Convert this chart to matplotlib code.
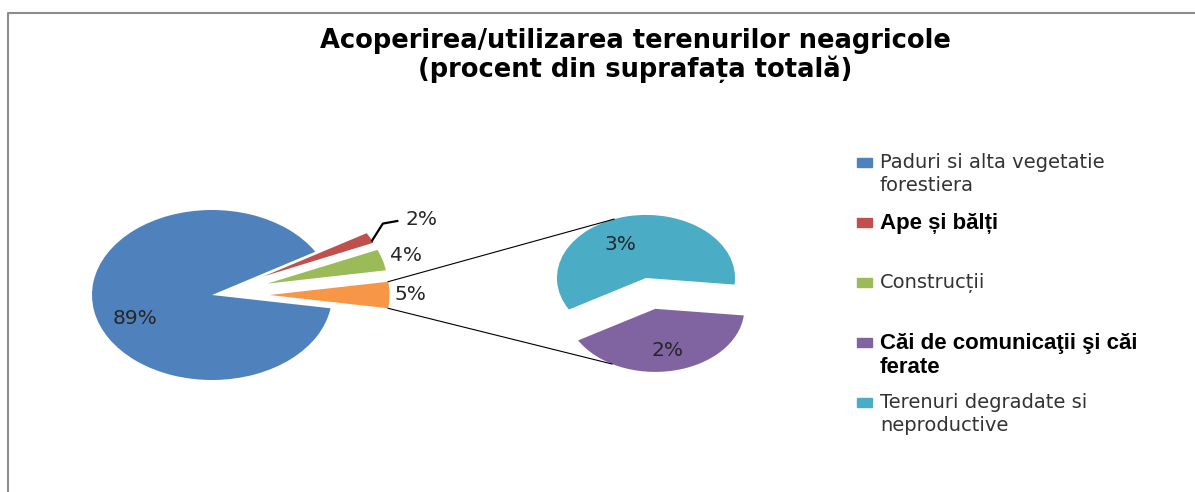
import matplotlib
matplotlib.use("Agg")
import matplotlib.pyplot as plt
from matplotlib.patches import Rectangle
from matplotlib.lines import Line2D
import numpy as np

# data
title_lines = ["Acoperirea/utilizarea terenurilor neagricole",
               "(procent din suprafața totală)"]
categories = ["Paduri si alta vegetatie\nforestiera",
              "Ape și bălți",
              "Construcții",
              "Căi de comunicaţii şi căi\nferate",
              "Terenuri degradate si\nneproductive"]
main_values = [89, 2, 4]      # Paduri, Ape, Constructii
other_values = [3, 2]         # Terenuri degradate, Cai de comunicatii
colors = ["#4F81BD", "#C0504D", "#9BBB59", "#8064A2", "#4BACC6"]
other_color = "#F79646"

W, H = 1195, 492
SX, SY = 120, 85   # pixels per data unit (pies are stretched wide)


def d(px, py):
    return px / SX, (H - py) / SY


fig = plt.figure(figsize=(W / 100, H / 100), dpi=100)
ax = fig.add_axes([0, 0, 1, 1])

# main pie: blue, red, green + "other" (orange) wedge
main_sizes = main_values + [sum(other_values)]
w1, _ = ax.pie(main_sizes, colors=colors[:3] + [other_color], center=d(212, 295),
               radius=1, startangle=351, counterclock=False,
               explode=[0, 0.48, 0.48, 0.48])

# secondary pie: cyan, purple
r2 = 0.742
w2, _ = ax.pie(other_values, colors=[colors[4], colors[3]], center=d(646, 278),
               radius=r2, startangle=-6, counterclock=True,
               explode=[0, 0.5 * r2])

ax.set_aspect("auto")
ax.set_xlim(0, W / SX)
ax.set_ylim(0, H / SY)
ax.axis("off")


def at(w, f, ang=None):
    a = np.deg2rad((w.theta1 + w.theta2) / 2 if ang is None else ang)
    return w.center[0] + f * w.r * np.cos(a), w.center[1] + f * w.r * np.sin(a)


lab_kw = dict(fontsize=14.5, family="DejaVu Sans", color="#262626", ha="center", va="center")
ax.text(*at(w1[0], 0.7, 203), f"{main_values[0]}%", **lab_kw)
ax.text(*at(w1[2], 1.2), f"{main_values[2]}%", **lab_kw)
ax.text(*at(w1[3], 1.17), f"{sum(other_values)}%", **lab_kw)
ax.text(*at(w2[0], 0.6, 119), f"{other_values[0]}%", **lab_kw)
ax.text(*at(w2[1], 0.67), f"{other_values[1]}%", **lab_kw)

# leader line for the small red slice
p0 = np.array(at(w1[1], 1.0, 25))
p1 = p0 + [0.09, 0.2]
p2 = p1 + [0.12, 0.03]
ax.plot([p0[0], p1[0], p2[0]], [p0[1], p1[1], p2[1]], color="black", lw=1.6)
ax.text(p2[0] + 0.07, p2[1] + 0.02, f"{main_values[1]}%",
        **{**lab_kw, "ha": "left"})

# connector lines between the orange wedge and the secondary pie
top_a = at(w1[3], 1.0, w1[3].theta2)
bot_a = at(w1[3], 1.0, w1[3].theta1)
top_b = at(w2[0], 1.0, 111)
bot_b = at(w2[1], 1.0, 241)
ax.plot([top_a[0], top_b[0]], [top_a[1], top_b[1]], color="black", lw=0.8)
ax.plot([bot_a[0], bot_b[0]], [bot_a[1], bot_b[1]], color="black", lw=0.8)

# title
fig.text(635 / W, 1 - 48 / H, title_lines[0], ha="center", va="baseline",
         fontsize=18.5, fontweight="bold", family="DejaVu Sans")
fig.text(635 / W, 1 - 77 / H, title_lines[1], ha="center", va="baseline",
         fontsize=18.5, fontweight="bold", family="DejaVu Sans")

# legend
fonts = ["DejaVu Sans", "Liberation Sans", "DejaVu Sans", "Liberation Sans", "DejaVu Sans"]
weights = ["normal", "bold", "normal", "bold", "normal"]
sizes = [14, 16, 14, 16, 14]
spacing = [1.28, 1.18, 1.28, 1.18, 1.28]
tcol = ["#333333", "black", "#333333", "black", "#333333"]
for i, (lab, col) in enumerate(zip(categories, colors)):
    y = 162 + 60 * i
    fig.add_artist(Rectangle((857 / W, 1 - (y + 4.5) / H), 15 / W, 9 / H,
                             transform=fig.transFigure, color=col))
    fig.text(880 / W, 1 - (y - 9) / H, lab, ha="left", va="top",
             fontsize=sizes[i], family=fonts[i], fontweight=weights[i],
             color=tcol[i], linespacing=spacing[i])

# chart border
fig.add_artist(Line2D([8 / W, 8 / W, 1.0], [0.0, 1 - 13 / H, 1 - 13 / H],
                      transform=fig.transFigure, color="#8c8c8c", lw=1.5))

fig.savefig("out.png", dpi=100)
